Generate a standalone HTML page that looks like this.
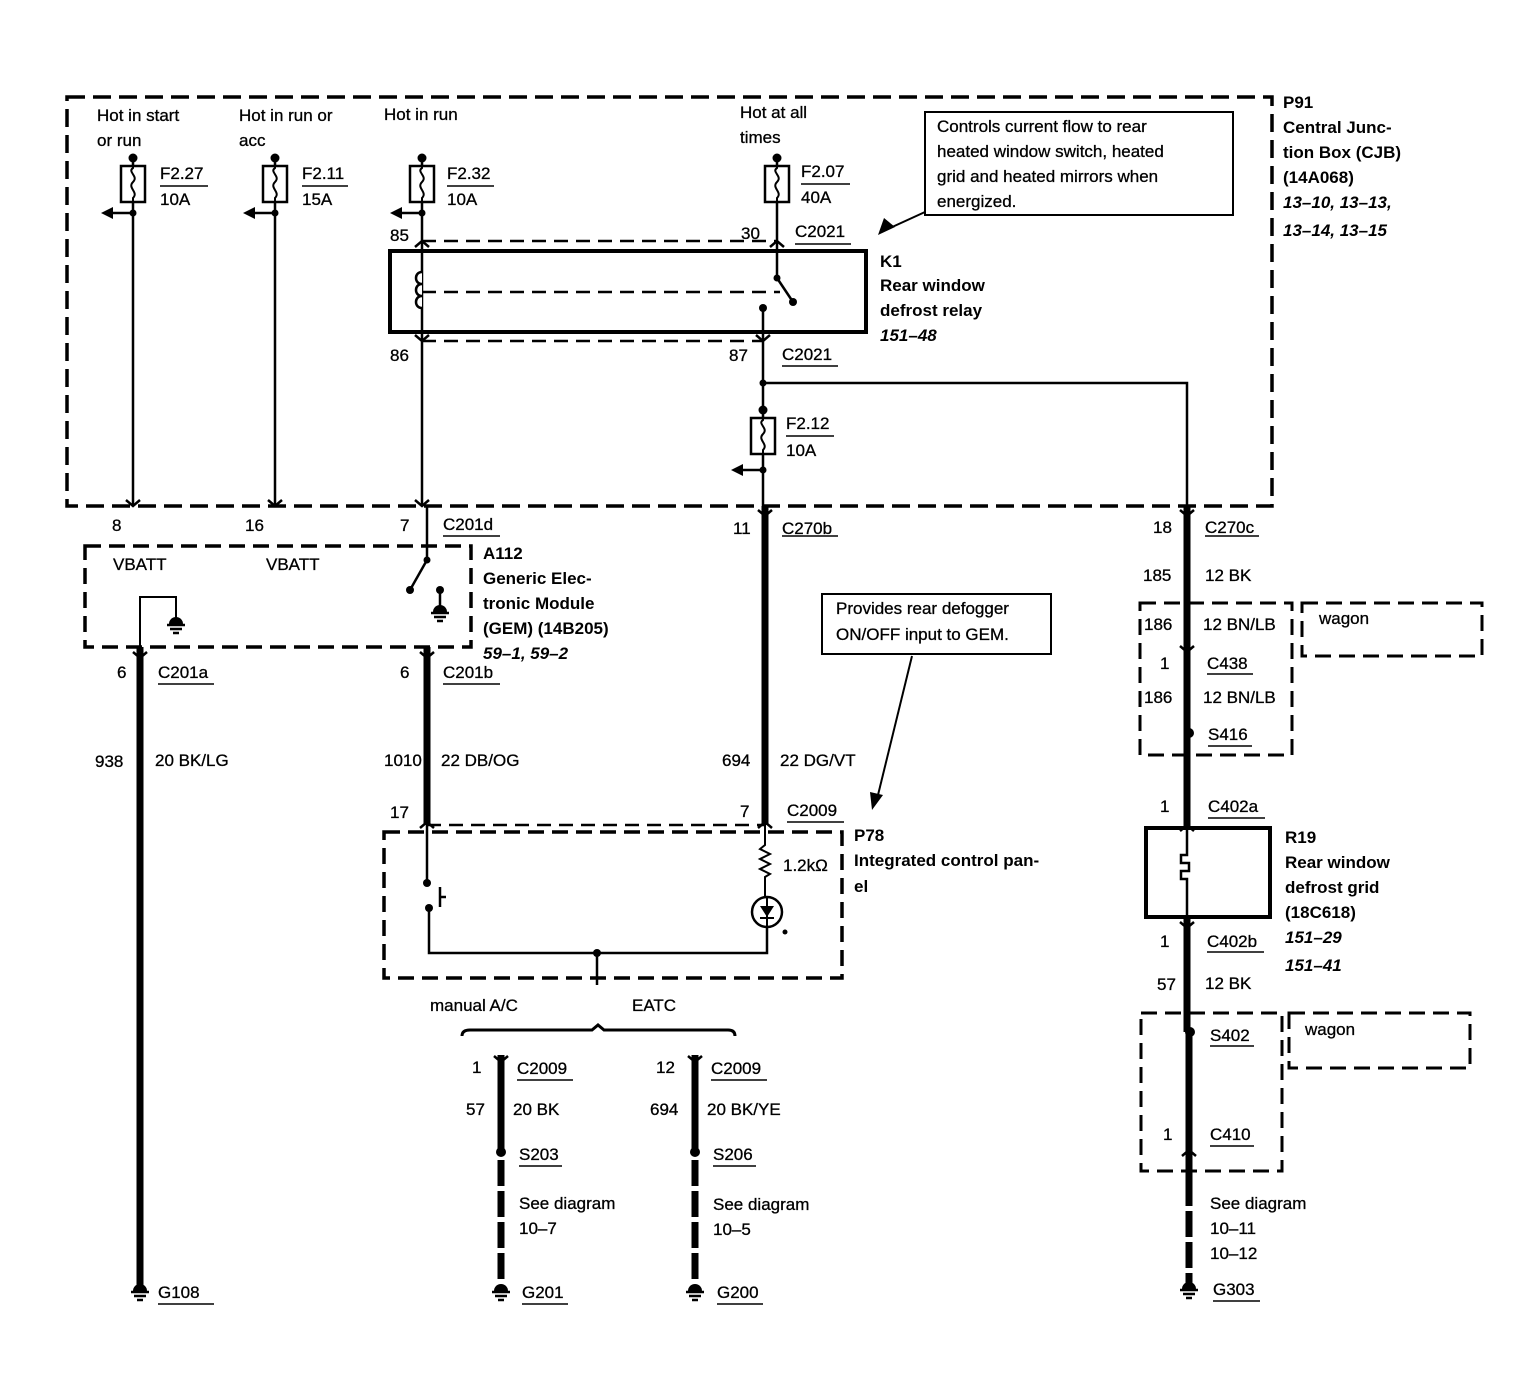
<!DOCTYPE html>
<html><head><meta charset="utf-8"><style>
html,body{margin:0;padding:0;background:#fff}
svg{display:block}
text{font-family:"Liberation Sans",Arial,sans-serif;font-size:17px;fill:#000;stroke:#000;stroke-width:0.3}
.b{font-weight:bold;stroke-width:0}
.i{font-weight:bold;font-style:italic;stroke-width:0}
</style></head><body>
<svg width="1516" height="1376" viewBox="0 0 1516 1376" xmlns="http://www.w3.org/2000/svg">
<defs>
<g id="fuse">
<circle cx="0" cy="-8" r="4.5" fill="#000"/>
<rect x="-12" y="0" width="24" height="36" fill="#fff" stroke="#000" stroke-width="2.5"/>
<path d="M0,-8 V2 C-6,6 6,10 0,16 C-6,22 6,26 0,32 V36" fill="none" stroke="#000" stroke-width="2"/>
</g>
<g id="gnd">
<path d="M-7,8 A7,7 0 0 1 7,8 Z" fill="#000"/>
<line x1="-9" y1="9" x2="9" y2="9" stroke="#000" stroke-width="2.5"/>
<line x1="-6" y1="13" x2="6" y2="13" stroke="#000" stroke-width="2.5"/>
<line x1="-3" y1="17" x2="3" y2="17" stroke="#000" stroke-width="2.5"/>
</g>
<g id="arrL">
<path d="M0,0 H-22" stroke="#000" stroke-width="2.5"/>
<path d="M-32,0 L-20,-6 L-20,6 Z" fill="#000"/>
<circle cx="0" cy="0" r="3.5" fill="#000"/>
</g>
<g id="fork"><path d="M-7,-6 L0,0 L7,-6" fill="none" stroke="#000" stroke-width="2.5"/></g>
<g id="forkU"><path d="M-7,6 L0,0 L7,6" fill="none" stroke="#000" stroke-width="2.5"/></g>
</defs>

<g fill="none" stroke="#000">
<rect x="67" y="97" width="1205" height="409" stroke-width="3.5" stroke-dasharray="18,8"/>
<line x1="133" y1="158" x2="133" y2="506" stroke-width="2.5"/>
<line x1="275" y1="158" x2="275" y2="506" stroke-width="2.5"/>
<line x1="422" y1="158" x2="422" y2="506" stroke-width="2.5"/>
<line x1="777" y1="158" x2="777" y2="278" stroke-width="2.5"/>
<rect x="390" y="251" width="476" height="81" stroke-width="4"/>
<line x1="422" y1="241" x2="777" y2="241" stroke-width="2.5" stroke-dasharray="14,8"/>
<line x1="422" y1="341" x2="763" y2="341" stroke-width="2.5" stroke-dasharray="14,8"/>
<path d="M422,272 c-8,0 -8,12 0,12 c-8,0 -8,12 0,12 c-8,0 -8,12 0,12" fill="#fff" stroke-width="2.5"/>
<line x1="422" y1="292" x2="780" y2="292" stroke-width="2.5" stroke-dasharray="14,8"/>
<line x1="777" y1="278" x2="793" y2="302" stroke-width="2.5"/>
<line x1="763" y1="308" x2="763" y2="506" stroke-width="2.5"/>
<polyline points="763,383 1187,383 1187,506" stroke-width="2.5"/>
<rect x="925" y="112" width="308" height="103" stroke-width="2"/>
<line x1="925" y1="212" x2="890" y2="228" stroke-width="2"/>
<rect x="85" y="546" width="386" height="101" stroke-width="3.5" stroke-dasharray="16,8"/>
<line x1="427" y1="506" x2="427" y2="560" stroke-width="2.5"/>
<line x1="427" y1="560" x2="410" y2="590" stroke-width="2.5"/>
<line x1="440" y1="590" x2="440" y2="612" stroke-width="2.5"/>
<polyline points="140,647 140,597 176,597 176,620" stroke-width="2"/>
<line x1="140" y1="647" x2="140" y2="1285" stroke-width="7"/>
<line x1="427" y1="647" x2="427" y2="825" stroke-width="7"/>
<line x1="765" y1="506" x2="765" y2="825" stroke-width="7"/>
<line x1="1187" y1="506" x2="1187" y2="828" stroke-width="7"/>
<line x1="1187" y1="917" x2="1187" y2="1032" stroke-width="7"/>
<line x1="1189" y1="1032" x2="1189" y2="1180" stroke-width="7"/>
<line x1="1189" y1="1180" x2="1189" y2="1283" stroke-width="7" stroke-dasharray="26,5"/>
<line x1="501" y1="1055" x2="501" y2="1152" stroke-width="7"/>
<line x1="501" y1="1160" x2="501" y2="1283" stroke-width="7" stroke-dasharray="26,5"/>
<line x1="695" y1="1055" x2="695" y2="1152" stroke-width="7"/>
<line x1="695" y1="1160" x2="695" y2="1283" stroke-width="7" stroke-dasharray="26,5"/>
<rect x="822" y="594" width="229" height="60" stroke-width="2"/>
<line x1="912" y1="656" x2="878" y2="795" stroke-width="2"/>
<rect x="384" y="832" width="458" height="146" stroke-width="3.5" stroke-dasharray="16,8"/>
<line x1="427" y1="825" x2="765" y2="825" stroke-width="2.5" stroke-dasharray="14,8"/>
<line x1="427" y1="825" x2="427" y2="882" stroke-width="2.5"/>
<polyline points="429,908 429,953 767,953 767,926" stroke-width="2.5"/>
<line x1="440" y1="887" x2="440" y2="907" stroke-width="2.5"/>
<line x1="440" y1="897" x2="446" y2="897" stroke-width="2.5"/>
<path d="M765,825 V845 l-5,4 10,5 -10,5 10,5 -10,5 10,5 -5,3 V898" stroke-width="2"/>
<circle cx="767" cy="912" r="15" stroke-width="2.5"/>
<line x1="597" y1="953" x2="597" y2="985" stroke-width="2.5"/>
<path d="M462,1036 Q462,1030 470,1030 H592 L598,1025 L604,1030 H728 Q735,1030 735,1036" stroke-width="3"/>
<rect x="1140" y="603" width="152" height="152" stroke-width="3" stroke-dasharray="16,8"/>
<rect x="1302" y="603" width="180" height="53" stroke-width="3" stroke-dasharray="16,8"/>
<rect x="1146" y="828" width="124" height="89" stroke-width="4"/>
<path d="M1187,828 V855 h-6 v8 h8 v8 h-8 v8 h6 V917" stroke-width="2.5"/>
<rect x="1141" y="1013" width="141" height="158" stroke-width="3" stroke-dasharray="16,8"/>
<rect x="1289" y="1013" width="181" height="55" stroke-width="3" stroke-dasharray="16,8"/>
<g stroke-width="1.5">
<line x1="160" y1="186" x2="208" y2="186"/><line x1="302" y1="186" x2="348" y2="186"/>
<line x1="447" y1="186" x2="494" y2="186"/><line x1="801" y1="184" x2="850" y2="184"/>
<line x1="786" y1="436" x2="834" y2="436"/>
<line x1="795" y1="244" x2="851" y2="244"/><line x1="782" y1="366" x2="838" y2="366"/>
<line x1="443" y1="536" x2="500" y2="536"/><line x1="782" y1="536" x2="838" y2="536"/>
<line x1="1205" y1="536" x2="1259" y2="536"/>
<line x1="158" y1="684" x2="214" y2="684"/><line x1="443" y1="684" x2="500" y2="684"/>
<line x1="787" y1="822" x2="844" y2="822"/>
<line x1="517" y1="1080" x2="573" y2="1080"/><line x1="711" y1="1080" x2="767" y2="1080"/>
<line x1="519" y1="1166" x2="562" y2="1166"/><line x1="713" y1="1166" x2="756" y2="1166"/>
<line x1="522" y1="1304" x2="568" y2="1304"/><line x1="717" y1="1304" x2="763" y2="1304"/>
<line x1="158" y1="1304" x2="214" y2="1304"/>
<line x1="1207" y1="674" x2="1253" y2="674"/><line x1="1208" y1="746" x2="1252" y2="746"/>
<line x1="1208" y1="818" x2="1265" y2="818"/><line x1="1207" y1="952" x2="1264" y2="952"/>
<line x1="1210" y1="1046" x2="1254" y2="1046"/><line x1="1210" y1="1146" x2="1254" y2="1146"/>
<line x1="1213" y1="1301" x2="1260" y2="1301"/>
</g>
</g>
<g fill="#000">
<path d="M878,235 L884,218 L895,227 Z"/>
<path d="M872,810 L870,792 L883,795 Z"/>
<circle cx="777" cy="278" r="3.5"/><circle cx="793" cy="302" r="4"/><circle cx="763" cy="308" r="4"/>
<circle cx="763" cy="383" r="3.5"/>
<circle cx="427" cy="560" r="3.5"/><circle cx="410" cy="590" r="4"/><circle cx="440" cy="590" r="4"/>
<circle cx="427" cy="883" r="4"/><circle cx="429" cy="908" r="4"/><circle cx="597" cy="953" r="4"/>
<path d="M760,906 H774 L767,917 Z"/><line x1="760" y1="918" x2="774" y2="918" stroke="#000" stroke-width="2"/>
<line x1="767" y1="897" x2="767" y2="926" stroke="#000" stroke-width="2"/>
<circle cx="785" cy="932" r="2.5"/>
<circle cx="1189" cy="733" r="5"/><circle cx="1190" cy="1032" r="5"/>
<circle cx="501" cy="1152" r="5"/><circle cx="695" cy="1152" r="5"/>
</g>
<use href="#fuse" x="133" y="166"/><use href="#fuse" x="275" y="166"/>
<use href="#fuse" x="422" y="166"/><use href="#fuse" x="777" y="166"/>
<use href="#fuse" x="763" y="418"/>
<use href="#arrL" x="133" y="213"/><use href="#arrL" x="275" y="213"/>
<use href="#arrL" x="422" y="213"/><use href="#arrL" x="763" y="470"/>
<use href="#forkU" x="422" y="241"/><use href="#forkU" x="777" y="241"/>
<use href="#fork" x="422" y="341"/><use href="#fork" x="763" y="341"/>
<use href="#fork" x="133" y="506"/><use href="#fork" x="275" y="506"/><use href="#fork" x="422" y="506"/>
<use href="#fork" x="765" y="516"/><use href="#fork" x="1187" y="516"/>
<use href="#fork" x="140" y="658"/><use href="#fork" x="427" y="658"/>
<use href="#forkU" x="427" y="822"/><use href="#forkU" x="765" y="822"/>
<use href="#fork" x="1187" y="652"/><use href="#forkU" x="1187" y="825"/><use href="#fork" x="1187" y="928"/>
<use href="#forkU" x="1189" y="1150"/>
<use href="#fork" x="501" y="1062"/><use href="#fork" x="695" y="1062"/>
<use href="#gnd" x="176" y="616"/><use href="#gnd" x="440" y="604"/>
<use href="#gnd" x="140" y="1283"/><use href="#gnd" x="501" y="1283"/>
<use href="#gnd" x="695" y="1283"/><use href="#gnd" x="1189" y="1281"/>

<text x="97" y="121">Hot in start</text><text x="97" y="146">or run</text>
<text x="239" y="121">Hot in run or</text><text x="239" y="146">acc</text>
<text x="384" y="120">Hot in run</text>
<text x="740" y="118">Hot at all</text><text x="740" y="143">times</text>
<text x="160" y="179">F2.27</text><text x="160" y="205">10A</text>
<text x="302" y="179">F2.11</text><text x="302" y="205">15A</text>
<text x="447" y="179">F2.32</text><text x="447" y="205">10A</text>
<text x="801" y="177">F2.07</text><text x="801" y="203">40A</text>
<text x="786" y="429">F2.12</text><text x="786" y="456">10A</text>
<text x="390" y="241">85</text><text x="741" y="239">30</text><text x="795" y="237">C2021</text>
<text x="390" y="361">86</text><text x="729" y="361">87</text><text x="782" y="360">C2021</text>
<text x="880" y="267" class="b">K1</text><text x="880" y="291" class="b">Rear window</text>
<text x="880" y="316" class="b">defrost relay</text><text x="880" y="341" class="i">151–48</text>
<text x="937" y="132">Controls current flow to rear</text>
<text x="937" y="157">heated window switch, heated</text>
<text x="937" y="182">grid and heated mirrors when</text>
<text x="937" y="207">energized.</text>
<text x="1283" y="108" class="b">P91</text><text x="1283" y="133" class="b">Central Junc-</text>
<text x="1283" y="158" class="b">tion Box (CJB)</text><text x="1283" y="183" class="b">(14A068)</text>
<text x="1283" y="208" class="i">13–10, 13–13,</text><text x="1283" y="236" class="i">13–14, 13–15</text>
<text x="112" y="531">8</text><text x="245" y="531">16</text><text x="400" y="531">7</text>
<text x="443" y="530">C201d</text><text x="733" y="534">11</text><text x="782" y="534">C270b</text>
<text x="1153" y="533">18</text><text x="1205" y="533">C270c</text>
<text x="113" y="570">VBATT</text><text x="266" y="570">VBATT</text>
<text x="483" y="559" class="b">A112</text><text x="483" y="584" class="b">Generic Elec-</text>
<text x="483" y="609" class="b">tronic Module</text><text x="483" y="634" class="b">(GEM) (14B205)</text>
<text x="483" y="659" class="i">59–1, 59–2</text>
<text x="117" y="678">6</text><text x="158" y="678">C201a</text>
<text x="400" y="678">6</text><text x="443" y="678">C201b</text>
<text x="95" y="767">938</text><text x="155" y="766">20 BK/LG</text>
<text x="384" y="766">1010</text><text x="441" y="766">22 DB/OG</text>
<text x="722" y="766">694</text><text x="780" y="766">22 DG/VT</text>
<text x="836" y="614">Provides rear defogger</text><text x="836" y="640">ON/OFF input to GEM.</text>
<text x="390" y="818">17</text><text x="740" y="817">7</text><text x="787" y="816">C2009</text>
<text x="854" y="841" class="b">P78</text><text x="854" y="866" class="b">Integrated control pan-</text>
<text x="854" y="892" class="b">el</text>
<text x="783" y="871">1.2kΩ</text>
<text x="430" y="1011">manual A/C</text><text x="632" y="1011">EATC</text>
<text x="472" y="1073">1</text><text x="517" y="1074">C2009</text>
<text x="466" y="1115">57</text><text x="513" y="1115">20 BK</text>
<text x="519" y="1160">S203</text><text x="519" y="1209">See diagram</text><text x="519" y="1234">10–7</text>
<text x="522" y="1298">G201</text>
<text x="656" y="1073">12</text><text x="711" y="1074">C2009</text>
<text x="650" y="1115">694</text><text x="707" y="1115">20 BK/YE</text>
<text x="713" y="1160">S206</text><text x="713" y="1210">See diagram</text><text x="713" y="1235">10–5</text>
<text x="717" y="1298">G200</text>
<text x="158" y="1298">G108</text>
<text x="1143" y="581">185</text><text x="1205" y="581">12 BK</text>
<text x="1144" y="630">186</text><text x="1203" y="630">12 BN/LB</text>
<text x="1319" y="624">wagon</text>
<text x="1160" y="669">1</text><text x="1207" y="669">C438</text>
<text x="1144" y="703">186</text><text x="1203" y="703">12 BN/LB</text>
<text x="1208" y="740">S416</text>
<text x="1160" y="812">1</text><text x="1208" y="812">C402a</text>
<text x="1285" y="843" class="b">R19</text><text x="1285" y="868" class="b">Rear window</text>
<text x="1285" y="893" class="b">defrost grid</text><text x="1285" y="918" class="b">(18C618)</text>
<text x="1285" y="943" class="i">151–29</text><text x="1285" y="971" class="i">151–41</text>
<text x="1160" y="947">1</text><text x="1207" y="947">C402b</text>
<text x="1157" y="990">57</text><text x="1205" y="989">12 BK</text>
<text x="1210" y="1041">S402</text><text x="1305" y="1035">wagon</text>
<text x="1163" y="1140">1</text><text x="1210" y="1140">C410</text>
<text x="1210" y="1209">See diagram</text><text x="1210" y="1234">10–11</text><text x="1210" y="1259">10–12</text>
<text x="1213" y="1295">G303</text>
</svg>
</body></html>
